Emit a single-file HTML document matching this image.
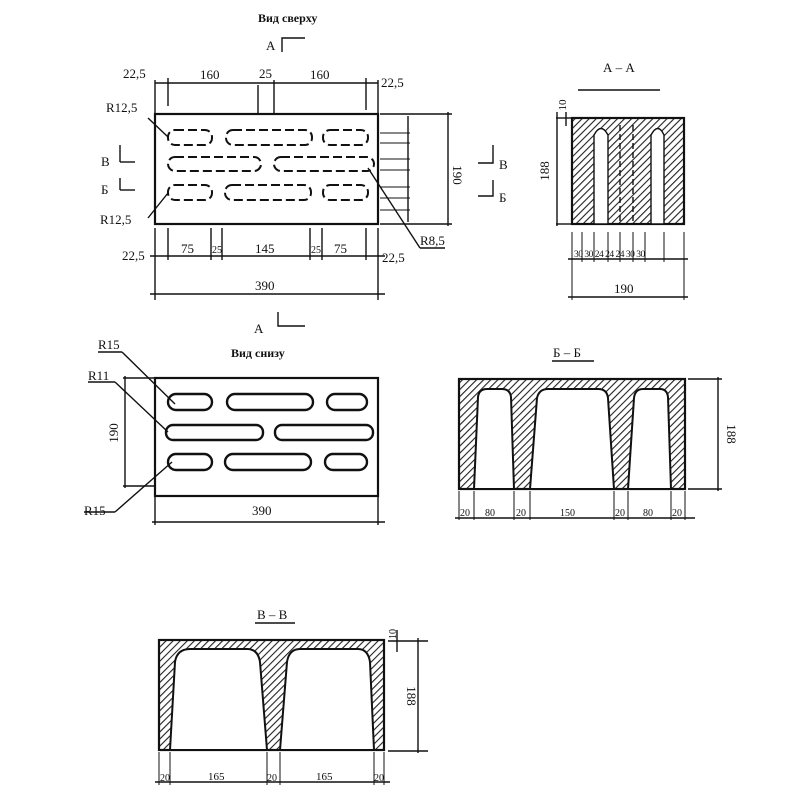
<!DOCTYPE html>
<html><head><meta charset="utf-8"><style>body{margin:0;background:#fff}svg{display:block}text{font-family:"Liberation Serif",serif;fill:#111}</style></head><body>
<svg width="800" height="800" viewBox="0 0 800 800" xmlns="http://www.w3.org/2000/svg">
<defs><pattern id="h" width="5" height="5" patternUnits="userSpaceOnUse" patternTransform="rotate(45)"><rect width="5" height="5" fill="#fff"/><line x1="0" y1="0" x2="0" y2="5" stroke="#222" stroke-width="2.2"/></pattern></defs>
<g stroke="#111" stroke-width="1.4" fill="none">
<!-- top view -->
<rect x="155" y="114" width="223" height="110" stroke-width="2.2"/>
<g stroke-dasharray="9,4" stroke-width="2">
<rect x="168" y="130" width="44" height="15" rx="7"/><rect x="226" y="130" width="86" height="15" rx="7"/><rect x="323" y="130" width="45" height="15" rx="7"/>
<rect x="168" y="157" width="93" height="14" rx="7"/><rect x="274" y="157" width="100" height="14" rx="7"/>
<rect x="168" y="185" width="44" height="15" rx="7"/><rect x="225" y="185" width="86" height="15" rx="7"/><rect x="323" y="185" width="45" height="15" rx="7"/>
</g>
<line x1="155" y1="80" x2="155" y2="114"/><line x1="168" y1="78" x2="168" y2="106"/><line x1="258" y1="85" x2="258" y2="114"/><line x1="274" y1="80" x2="274" y2="114"/><line x1="366" y1="78" x2="366" y2="110"/><line x1="378" y1="80" x2="378" y2="114"/>
<line x1="155" y1="83" x2="378" y2="83"/>
<line x1="155" y1="228" x2="155" y2="300"/><line x1="168" y1="228" x2="168" y2="260"/><line x1="211" y1="228" x2="211" y2="260"/><line x1="222" y1="228" x2="222" y2="260"/><line x1="310" y1="228" x2="310" y2="260"/><line x1="322" y1="228" x2="322" y2="260"/><line x1="366" y1="228" x2="366" y2="260"/><line x1="378" y1="228" x2="378" y2="300"/>
<line x1="150" y1="256" x2="385" y2="256"/><line x1="150" y1="294" x2="385" y2="294"/>
<line x1="380" y1="114" x2="452" y2="114"/><line x1="380" y1="224" x2="452" y2="224"/><line x1="448" y1="112" x2="448" y2="226"/><line x1="408" y1="116" x2="408" y2="222"/>
<g stroke-width="1"><line x1="380" y1="133" x2="410" y2="133"/><line x1="380" y1="143" x2="410" y2="143"/><line x1="380" y1="159" x2="410" y2="159"/><line x1="380" y1="170" x2="410" y2="170"/><line x1="380" y1="187" x2="410" y2="187"/><line x1="380" y1="198" x2="410" y2="198"/><line x1="380" y1="210" x2="410" y2="210"/></g>
<line x1="148" y1="118" x2="168" y2="137"/><line x1="148" y1="218" x2="168" y2="193"/><line x1="368" y1="168" x2="420" y2="248"/><line x1="420" y1="248" x2="445" y2="248"/>
<polyline points="282,52 282,38 305,38"/><polyline points="120,162 120,145"/><polyline points="120,162 135,162"/><polyline points="120,190 120,178"/><polyline points="120,190 135,190"/>
<polyline points="278,312 278,326 305,326"/>
<polyline points="493,145 493,163 478,163"/><polyline points="493,180 493,196 478,196"/>
<!-- A-A -->
<line x1="578" y1="90" x2="660" y2="90"/>
<rect x="572" y="118" width="112" height="106" fill="url(#h)" stroke-width="2.2"/>
<path d="M594 224 L594 135 Q601 122 608 135 L608 224 Z M651 224 L651 135 Q658 122 664 135 L664 224 Z" fill="#fff"/>
<line x1="620" y1="125" x2="620" y2="224" stroke-dasharray="6,3"/><line x1="633" y1="125" x2="633" y2="224" stroke-dasharray="6,3"/>
<line x1="556" y1="118" x2="572" y2="118"/><line x1="556" y1="224" x2="572" y2="224"/><line x1="557" y1="112" x2="557" y2="226"/><line x1="566" y1="112" x2="566" y2="126"/>
<g stroke-width="1"><line x1="572" y1="232" x2="572" y2="300"/><line x1="684" y1="232" x2="684" y2="300"/><line x1="582" y1="232" x2="582" y2="262"/><line x1="594" y1="232" x2="594" y2="262"/><line x1="608" y1="232" x2="608" y2="262"/><line x1="620" y1="232" x2="620" y2="262"/><line x1="633" y1="232" x2="633" y2="262"/><line x1="645" y1="232" x2="645" y2="262"/><line x1="664" y1="232" x2="664" y2="262"/></g>
<line x1="568" y1="259" x2="688" y2="259"/><line x1="568" y1="297" x2="688" y2="297"/>
<!-- bottom view -->
<rect x="155" y="378" width="223" height="118" stroke-width="2.2"/>
<g stroke-width="2.4">
<rect x="168" y="394" width="44" height="16" rx="8"/><rect x="227" y="394" width="86" height="16" rx="8"/><rect x="327" y="394" width="40" height="16" rx="8"/>
<rect x="166" y="425" width="97" height="15" rx="7"/><rect x="275" y="425" width="98" height="15" rx="7"/>
<rect x="168" y="454" width="44" height="16" rx="8"/><rect x="225" y="454" width="86" height="16" rx="8"/><rect x="325" y="454" width="42" height="16" rx="8"/>
</g>
<line x1="123" y1="378" x2="155" y2="378"/><line x1="123" y1="486" x2="155" y2="486"/><line x1="125" y1="376" x2="125" y2="488"/>
<line x1="155" y1="496" x2="155" y2="525"/><line x1="378" y1="496" x2="378" y2="525"/><line x1="152" y1="522" x2="385" y2="522"/>
<line x1="98" y1="352" x2="122" y2="352"/><line x1="122" y1="352" x2="175" y2="404"/><line x1="88" y1="382" x2="115" y2="382"/><line x1="115" y1="382" x2="168" y2="432"/><line x1="84" y1="512" x2="115" y2="512"/><line x1="115" y1="512" x2="172" y2="462"/>
<!-- Б-Б -->
<line x1="552" y1="361" x2="594" y2="361"/>
<rect x="459" y="379" width="226" height="110" fill="url(#h)" stroke-width="2.2"/>
<path d="M474 489 L478 397 Q479 389 487 389 L502 389 Q510 389 511 397 L514 489Z M530 489 L537 398 Q539 389 548 389 L598 389 Q607 389 608 398 L614 489Z M628 489 L634 398 Q635 389 643 389 L660 389 Q667 389 668 397 L671 489Z" fill="#fff" stroke-width="2"/>
<line x1="688" y1="379" x2="722" y2="379"/><line x1="688" y1="489" x2="722" y2="489"/><line x1="718" y1="377" x2="718" y2="491"/>
<g stroke-width="1"><line x1="459" y1="491" x2="459" y2="520"/><line x1="474" y1="491" x2="474" y2="520"/><line x1="514" y1="491" x2="514" y2="520"/><line x1="530" y1="491" x2="530" y2="520"/><line x1="614" y1="491" x2="614" y2="520"/><line x1="628" y1="491" x2="628" y2="520"/><line x1="671" y1="491" x2="671" y2="520"/><line x1="685" y1="491" x2="685" y2="520"/></g>
<line x1="455" y1="518" x2="695" y2="518"/>
<!-- В-В -->
<line x1="255" y1="623" x2="295" y2="623"/>
<rect x="159" y="640" width="225" height="110" fill="url(#h)" stroke-width="2.2"/>
<path d="M170 750 L175 662 Q177 649 190 649 L247 649 Q258 649 260 662 L267 750Z M280 750 L287 662 Q289 649 300 649 L358 649 Q368 649 370 662 L374 750Z" fill="#fff" stroke-width="2"/>
<line x1="388" y1="641" x2="428" y2="641"/><line x1="388" y1="751" x2="428" y2="751"/><line x1="418" y1="638" x2="418" y2="753"/><line x1="397" y1="630" x2="397" y2="652"/>
<g stroke-width="1"><line x1="159" y1="752" x2="159" y2="785"/><line x1="170" y1="752" x2="170" y2="785"/><line x1="267" y1="752" x2="267" y2="785"/><line x1="280" y1="752" x2="280" y2="785"/><line x1="374" y1="752" x2="374" y2="785"/><line x1="384" y1="752" x2="384" y2="785"/></g>
<line x1="155" y1="782" x2="390" y2="782"/>
</g>
<g font-size="13">
<text x="258" y="22" font-family="Liberation Sans" font-size="12" font-weight="bold">Вид сверху</text>
<text x="266" y="50">А</text><text x="254" y="333">А</text>
<text x="123" y="78">22,5</text><text x="200" y="79">160</text><text x="259" y="78">25</text><text x="310" y="79">160</text><text x="381" y="87">22,5</text>
<text x="106" y="112">R12,5</text><text x="100" y="224">R12,5</text><text x="420" y="245">R8,5</text>
<text x="101" y="166">В</text><text x="101" y="194">Б</text><text x="499" y="169">В</text><text x="499" y="202">Б</text>
<text x="122" y="260">22,5</text><text x="181" y="253">75</text><text x="212" y="253" font-size="10">25</text><text x="255" y="253">145</text><text x="311" y="253" font-size="10">25</text><text x="334" y="253">75</text><text x="382" y="262">22,5</text>
<text x="255" y="290">390</text>
<text x="453" y="175" transform="rotate(90 453 175)" text-anchor="middle">190</text>
<text x="603" y="72" font-family="Liberation Sans">А – А</text>
<text x="549" y="171" transform="rotate(-90 549 171)" text-anchor="middle">188</text>
<text x="566" y="105" transform="rotate(-90 566 105)" text-anchor="middle" font-size="11">10</text>
<text x="574" y="257" font-size="9.5" letter-spacing="-0.5">30 30 24 24 24 30 30</text>
<text x="614" y="293">190</text>
<text x="98" y="349">R15</text><text x="88" y="380">R11</text><text x="84" y="515">R15</text>
<text x="231" y="357" font-family="Liberation Sans" font-size="12" font-weight="bold">Вид снизу</text>
<text x="118" y="433" transform="rotate(-90 118 433)" text-anchor="middle">190</text>
<text x="252" y="515">390</text>
<text x="553" y="357">Б – Б</text>
<text x="727" y="434" transform="rotate(90 727 434)" text-anchor="middle">188</text>
<text x="460" y="516" font-size="10">20</text><text x="485" y="516" font-size="10">80</text><text x="516" y="516" font-size="10">20</text><text x="560" y="516" font-size="10">150</text><text x="615" y="516" font-size="10">20</text><text x="643" y="516" font-size="10">80</text><text x="672" y="516" font-size="10">20</text>
<text x="257" y="619">В – В</text>
<text x="396" y="634" transform="rotate(-90 396 634)" text-anchor="middle" font-size="10">10</text>
<text x="407" y="696" transform="rotate(90 407 696)" text-anchor="middle">188</text>
<text x="160" y="781" font-size="10">20</text><text x="208" y="780" font-size="11">165</text><text x="267" y="781" font-size="10">20</text><text x="316" y="780" font-size="11">165</text><text x="374" y="781" font-size="10">20</text>
</g>
</svg>
</body></html>
